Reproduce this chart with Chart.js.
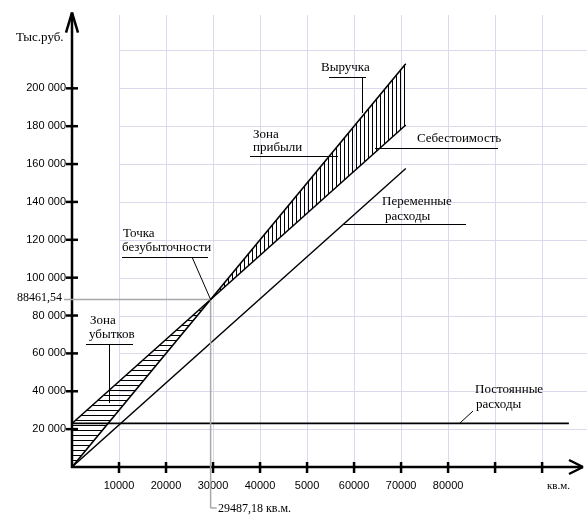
<!DOCTYPE html>
<html>
<head>
<meta charset="utf-8">
<script src="https://cdn.jsdelivr.net/npm/chart.js@4.4.1/dist/chart.umd.min.js"></script>
<style>
  html, body { margin: 0; padding: 0; background: #fff; }
  canvas { display: block; }
</style>
</head>
<body>
<canvas id="bepChart" width="587" height="524"></canvas>
<script>
// values (x in кв.м., y in тыс.руб.)
const volume = [0, 71000];
const revenue = [0, 213000];
const totalCost = [23000, 180620];
const variableCost = [0, 157620];
const fixedVolume = [0, 105700];
const fixedCost = [23000, 23000];
const breakEven = [29487.18, 88461.54];

const yTickValues = [20000, 40000, 60000, 80000, 100000, 120000, 140000, 160000, 180000, 200000];
const yTickLabels = ['20 000', '40 000', '60 000', '80 000', '100 000', '120 000', '140 000', '160 000', '180 000', '200 000'];
const xTickValues = [10000, 20000, 30000, 40000, 50000, 60000, 70000, 80000, 90000, 100000];
const xTickLabels = ['10000', '20000', '30000', '40000', '5000', '60000', '70000', '80000', '', ''];
const gridY = [20000, 40000, 60000, 80000, 100000, 120000, 140000, 160000, 180000, 200000, 220000];

const SANS = '"Liberation Sans", Arial, sans-serif';
const SERIF = '"Liberation Serif", "Times New Roman", serif';

function toPoints(xs, ys) {
  return xs.map((x, i) => ({ x: x, y: ys[i] }));
}

function hatch(vertical, step) {
  const c = document.createElement('canvas');
  c.width = step;
  c.height = step;
  const g = c.getContext('2d');
  g.strokeStyle = '#000';
  g.lineWidth = 1;
  g.beginPath();
  if (vertical) {
    g.moveTo(0.5, 0);
    g.lineTo(0.5, step);
  } else {
    g.moveTo(0, 0.5);
    g.lineTo(step, 0.5);
  }
  g.stroke();
  return g.createPattern(c, 'repeat');
}

const profitHatch = hatch(true, 4);
const lossHatch = hatch(false, 5);

function line(ctx, x1, y1, x2, y2) {
  ctx.beginPath();
  ctx.moveTo(x1, y1);
  ctx.lineTo(x2, y2);
  ctx.stroke();
}

function label(ctx, text, x, y, font, align) {
  ctx.font = font;
  ctx.textAlign = align || 'left';
  ctx.textBaseline = 'middle';
  ctx.fillText(text, x, y);
}

const decorations = {
  id: 'decorations',
  beforeDatasetsDraw(chart) {
    const ctx = chart.ctx;
    const xs = chart.scales.x;
    const ys = chart.scales.y;
    ctx.save();
    // grid
    ctx.strokeStyle = '#dadaec';
    ctx.lineWidth = 1;
    xTickValues.forEach(v => {
      const px = Math.round(xs.getPixelForValue(v)) + 0.5;
      line(ctx, px, 15, px, ys.getPixelForValue(0) - 4);
    });
    gridY.forEach(v => {
      const py = Math.round(ys.getPixelForValue(v)) + 0.5;
      line(ctx, xs.getPixelForValue(10000), py, chart.width, py);
    });
    ctx.restore();
  },
  afterDatasetsDraw(chart) {
    const ctx = chart.ctx;
    const xs = chart.scales.x;
    const ys = chart.scales.y;
    const x0 = xs.getPixelForValue(0);
    const y0 = ys.getPixelForValue(0);
    const xEnd = xs.right;
    const yTop = ys.top;
    ctx.save();
    ctx.strokeStyle = '#000';
    ctx.fillStyle = '#000';
    // axes with open arrow heads
    ctx.lineWidth = 2.5;
    line(ctx, x0, y0 + 1, x0, yTop);
    line(ctx, x0 - 6, yTop + 20, x0, yTop);
    line(ctx, x0 + 6, yTop + 20, x0, yTop);
    line(ctx, x0 - 1, y0, xEnd, y0);
    line(ctx, xEnd - 14, y0 - 7, xEnd, y0);
    line(ctx, xEnd - 14, y0 + 7, xEnd, y0);
    // tick marks across the axes
    yTickValues.forEach(v => {
      const py = ys.getPixelForValue(v);
      line(ctx, x0 - 6, py, x0 + 6, py);
    });
    xTickValues.forEach((v, i) => {
      const px = xs.getPixelForValue(v);
      line(ctx, px, y0 - 5, px, y0 + 6);
      label(ctx, xTickLabels[i], px, 486, '11px ' + SANS, 'center');
    });

    // break-even guides
    const bx = xs.getPixelForValue(breakEven[0]);
    const by = ys.getPixelForValue(breakEven[1]);
    ctx.strokeStyle = '#a8a8a8';
    ctx.lineWidth = 1.5;
    line(ctx, 64, by, bx - 1, by);
    line(ctx, bx, by + 1, bx, 508);
    line(ctx, bx, 508, bx + 6, 508);

    // annotations with leader lines
    ctx.strokeStyle = '#000';
    ctx.lineWidth = 1;
    const f = '13px ' + SERIF;
    label(ctx, 'Тыс.руб.', 16, 38, '13px ' + SERIF);
    label(ctx, '88461,54', 62, 298, '12px ' + SERIF, 'right');
    label(ctx, '29487,18 кв.м.', 218, 509, '12px ' + SERIF);
    label(ctx, 'кв.м.', 547, 486, '11px ' + SERIF);

    label(ctx, 'Выручка', 321, 68, f);
    line(ctx, 329, 77.5, 366, 77.5);
    line(ctx, 362.5, 77, 362.5, 113);

    label(ctx, 'Зона', 253, 135, f);
    label(ctx, 'прибыли', 253, 148, f);
    line(ctx, 250, 156.5, 338, 156.5);

    label(ctx, 'Себестоимость', 417, 139, f);
    line(ctx, 375, 148.5, 498, 148.5);

    label(ctx, 'Переменные', 382, 202, f);
    label(ctx, 'расходы', 385, 217, f);
    line(ctx, 344, 224.5, 466, 224.5);

    label(ctx, 'Точка', 123, 234, f);
    label(ctx, 'безубыточности', 122, 248, f);
    line(ctx, 122, 257.5, 208, 257.5);
    line(ctx, 192, 257, bx, by);

    label(ctx, 'Зона', 90, 321, f);
    label(ctx, 'убытков', 89, 335, f);
    line(ctx, 86, 344.5, 133, 344.5);
    line(ctx, 109.5, 344, 109.5, 403);

    label(ctx, 'Постоянные', 475, 390, f);
    label(ctx, 'расходы', 476, 405, f);
    line(ctx, 460, 423, 473, 411);
    ctx.restore();
  }
};

const ctx = document.getElementById('bepChart').getContext('2d');

new Chart(ctx, {
  type: 'line',
  data: {
    datasets: [
      {
        label: 'Выручка',
        data: toPoints(volume, revenue),
        borderColor: '#000',
        borderWidth: 1.6,
        pointRadius: 0,
        fill: { target: 1, above: profitHatch, below: lossHatch }
      },
      {
        label: 'Себестоимость',
        data: toPoints(volume, totalCost),
        borderColor: '#000',
        borderWidth: 1.6,
        pointRadius: 0,
        fill: false
      },
      {
        label: 'Переменные расходы',
        data: toPoints(volume, variableCost),
        borderColor: '#000',
        borderWidth: 1.4,
        pointRadius: 0,
        fill: false
      },
      {
        label: 'Постоянные расходы',
        data: toPoints(fixedVolume, fixedCost),
        borderColor: '#000',
        borderWidth: 1.8,
        pointRadius: 0,
        fill: false
      }
    ]
  },
  options: {
    responsive: false,
    animation: false,
    devicePixelRatio: 1,
    layout: { padding: { left: 0, right: 4, top: 8, bottom: 0 } },
    plugins: {
      legend: { display: false },
      tooltip: { enabled: false }
    },
    scales: {
      x: {
        type: 'linear',
        min: 0,
        max: 108700,
        afterFit: s => { s.height = 57; },
        grid: { display: false },
        border: { display: false },
        ticks: { display: false, stepSize: 10000 }
      },
      y: {
        type: 'linear',
        min: 0,
        max: 240000,
        afterFit: s => { s.width = 72; },
        grid: { display: false, drawTicks: false },
        border: { display: false },
        ticks: {
          stepSize: 20000,
          padding: 6,
          color: '#000',
          font: { family: SANS, size: 11 },
          callback: v => {
            const i = yTickValues.indexOf(v);
            return i >= 0 ? yTickLabels[i] : '';
          }
        }
      }
    }
  },
  plugins: [decorations]
});
</script>
</body>
</html>
